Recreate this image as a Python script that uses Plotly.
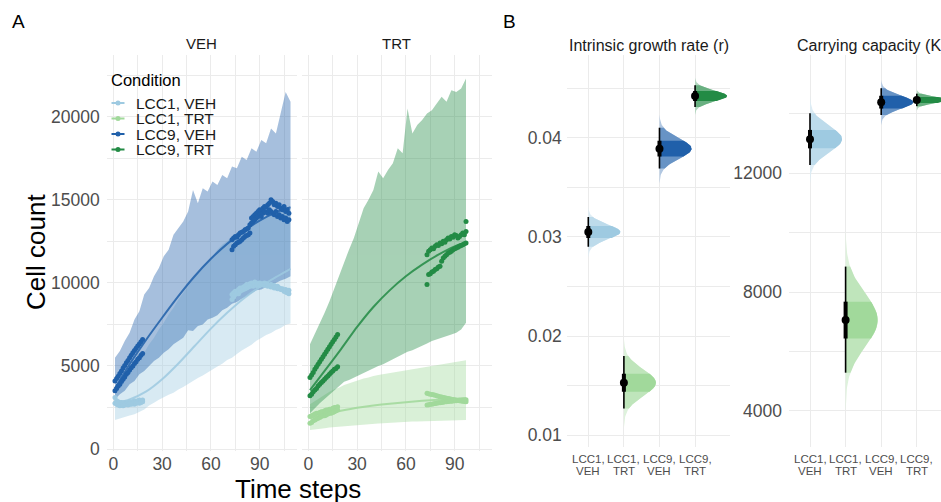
import plotly.graph_objects as go

W, H = 941, 502
HV = 494  # effective vertical scale of the rendered page
F = "Liberation Sans"


def PX(p):
    return p / W


def PY(p):
    return 1 - p / HV


# ---------------- data ----------------
conditions = ["LCC1, VEH", "LCC1, TRT", "LCC9, VEH", "LCC9, TRT"]
colors = ["#9ecae1", "#a1d99b", "#2060aa", "#238b45"]
cat_line1 = ["LCC1,", "LCC1,", "LCC9,", "LCC9,"]
cat_line2 = ["VEH", "TRT", "VEH", "TRT"]

# prediction ribbons (time steps)
veh_rib_t = [1, 4, 7, 10, 13, 16, 19, 22, 25, 28, 31, 34, 37, 40, 43, 46, 49, 52, 55, 58, 61,
             64, 67, 70, 73, 76, 79, 82, 85, 88, 91, 94, 97, 100, 103, 106, 109]
l1v_lo = [1750, 1870, 1930, 2010, 2090, 2230, 2380, 2620, 2780, 2970, 3130, 3270, 3390, 3580, 3730,
          3920, 4080, 4270, 4430, 4620, 4780, 4970, 5130, 5360, 5490, 5720, 5930, 6120, 6280, 6520,
          6680, 6870, 6990, 7170, 7290, 7480, 7550]
l1v_hi = [3700, 4000, 4300, 4700, 5000, 5400, 5800, 6300, 6700, 7200, 7600, 8100, 8500, 9000, 9400,
          9800, 10200, 10600, 11000, 11300, 11600, 12000, 12300, 12500, 12800, 13000, 13200, 13400,
          13600, 13800, 13900, 14000, 14100, 14200, 14300, 14400, 14500]
l9v_lo = [3000, 3300, 3500, 3900, 4100, 4500, 4700, 5000, 5300, 5500, 5800, 6000, 6300, 6500, 6700,
          7150, 7100, 7400, 7500, 7800, 7900, 8050, 8350, 8500, 8750, 8850, 9050, 9200, 9350, 9550,
          9600, 9750, 9900, 10000, 10150, 10250, 10400]
l9v_hi = [5500, 5900, 6500, 7000, 7800, 8300, 9300, 9700, 10400, 10900, 11600, 12000, 12900, 13300,
          13700, 14300, 15600, 14800, 15700, 15500, 16100, 15900, 16500, 16300, 17000, 16900, 17600,
          17400, 18100, 17900, 18600, 18400, 19300, 19000, 20300, 21500, 20900]

trt_rib_t = [1, 4, 7, 10, 13, 16, 19, 22, 25, 28, 31, 34, 37, 40, 43, 46, 49, 52, 55, 58, 61,
             64, 67, 70, 73, 76, 79, 82, 85, 88, 91, 94, 97]
l1t_lo = [1150, 1180, 1220, 1250, 1290, 1320, 1350, 1380, 1400, 1430, 1450, 1470, 1490, 1510, 1530,
          1550, 1570, 1590, 1600, 1620, 1640, 1650, 1660, 1670, 1680, 1690, 1700, 1710, 1720, 1730,
          1740, 1745, 1750]
l1t_hi = [2700, 2900, 3100, 3300, 3450, 3600, 3700, 3850, 3950, 4050, 4150, 4250, 4300, 4400, 4450,
          4500, 4550, 4600, 4650, 4700, 4750, 4800, 4850, 4900, 4950, 5000, 5050, 5100, 5150, 5200,
          5250, 5300, 5350]
l9t_lo = [2150, 2450, 2750, 3000, 3300, 3550, 3800, 4050, 4150, 4300, 4400, 4550, 4700, 4850, 5000,
          5100, 5250, 5400, 5550, 5700, 5850, 5950, 6100, 6200, 6350, 6500, 6600, 6700, 6800, 6900,
          7000, 7200, 7600]
l9t_hi = [6300, 6900, 7500, 8200, 8900, 9700, 10500, 11200, 12000, 12700, 13600, 14500, 15000, 15600,
          16700, 16300, 16800, 17200, 18100, 17800, 20500, 19000, 19500, 19800, 20200, 20400, 20800,
          21200, 20900, 21600, 21500, 21700, 22300]

# fitted curves
veh_line_t = [1, 10, 20, 30, 40, 50, 60, 70, 80, 90, 100, 109]
l1v_line = [2750, 2980, 3450, 4200, 5150, 6200, 7250, 8200, 9050, 9750, 10350, 10850]
l9v_line = [3650, 5100, 6550, 7900, 9200, 10400, 11450, 12350, 13100, 13750, 14250, 14550]
trt_line_t = [1, 10, 20, 30, 40, 50, 60, 70, 80, 90, 97]
l1t_line = [1850, 2100, 2300, 2480, 2620, 2730, 2820, 2900, 2970, 3030, 3060]
l9t_line = [3550, 4700, 6000, 7350, 8550, 9550, 10400, 11100, 11700, 12200, 12450]

# observed cell counts
early_t = [1, 2, 3, 4, 5, 6, 7, 8, 9, 10, 11, 12, 13, 14, 15, 16, 17, 18]
veh_late_t = [73, 74, 75, 76, 77, 78, 79, 80, 81, 82, 83, 84, 85, 86, 87, 88, 89, 90, 91, 92, 93,
              94, 95, 96, 97, 98, 99, 100, 101, 102, 103, 104, 105, 106, 107, 108]
trt_late_t = [73, 74, 75, 76, 77, 78, 79, 80, 81, 82, 83, 84, 85, 86, 87, 88, 89, 90, 91, 92, 93,
              94, 95, 96, 97]

l1v_e1 = [3100, 2900, 2850, 2800, 2800, 2750, 2800, 2750, 2800, 2850, 2800, 2850, 2900, 2850, 2900,
          2950, 2900, 2950]
l1v_e2 = [2750, 2700, 2650, 2600, 2650, 2600, 2650, 2700, 2650, 2700, 2700, 2750, 2700, 2750, 2800,
          2750, 2800, 2850]
l1v_l1 = [9300, 9400, 9500, 9450, 9600, 9700, 9650, 9750, 9800, 9900, 9850, 9950, 10000, 9950, 10050,
          10000, 9950, 10000, 9900, 9950, 9850, 9900, 9800, 9850, 9750, 9800, 9700, 9750, 9650, 9700,
          9600, 9650, 9550, 9600, 9500, 9550]
l1v_l2 = [9000, 9150, 9300, 9400, 9350, 9500, 9550, 9600, 9650, 9700, 9750, 9800, 9850, 9800, 9900,
          9850, 9900, 9850, 9950, 9900, 10000, 9950, 9900, 9850, 9900, 9800, 9850, 9750, 9800, 9700,
          9650, 9600, 9500, 9450, 9400, 9350]
l9v_e1 = [4100, 4250, 4380, 4550, 4700, 4880, 5020, 5200, 5330, 5500, 5640, 5800, 5930, 6060, 6200,
          6320, 6450, 6600]
l9v_e2 = [3500, 3640, 3800, 3900, 4060, 4200, 4340, 4500, 4600, 4760, 4890, 5000, 5150, 5260, 5400,
          5500, 5640, 5750]
l9v_l1 = [12600, 12700, 12800, 12750, 12900, 13000, 13050, 13100, 13200, 13250, 13300, 13500, 13900,
          14000, 14100, 14200, 14300, 14400, 14350, 14500, 14600, 14550, 14700, 14800, 15000, 14900,
          14700, 14800, 14600, 14700, 14500, 14400, 14600, 14300, 14400, 14200]
l9v_l2 = [12000, 12200, 12300, 12400, 12450, 12500, 12600, 12700, 12800, 12850, 12900, 13000, 13600,
          13700, 13800, 13900, 14000, 14100, 14000, 14200, 14300, 14250, 14200, 14400, 14300, 14200,
          14100, 14300, 14000, 14100, 13900, 14000, 13800, 13900, 13700, 13800]

l1t_e1 = [1950, 2000, 2050, 2100, 2150, 2150, 2200, 2250, 2250, 2300, 2350, 2350, 2400, 2400, 2450,
          2500, 2500, 2550]
l1t_e2 = [1550, 1600, 1700, 1750, 1800, 1850, 1900, 1950, 2000, 2000, 2050, 2100, 2150, 2150, 2200,
          2250, 2300, 2350]
l1t_l1 = [3350, 3330, 3300, 3280, 3260, 3230, 3200, 3180, 3150, 3130, 3100, 3080, 3060, 3040, 3020,
          3000, 2980, 2960, 2940, 2920, 2900, 2890, 2880, 2860, 2850]
l1t_l2 = [2650, 2670, 2690, 2700, 2720, 2740, 2760, 2780, 2790, 2800, 2820, 2840, 2850, 2860, 2870,
          2880, 2890, 2900, 2910, 2920, 2930, 2940, 2950, 2950, 2960]
l9t_e1 = [4300, 4450, 4600, 4800, 4950, 5100, 5250, 5400, 5550, 5700, 5850, 6000, 6150, 6300, 6450,
          6600, 6750, 6900]
l9t_e2 = [3200, 3300, 3450, 3550, 3650, 3800, 3900, 4000, 4100, 4200, 4300, 4400, 4500, 4600, 4700,
          4800, 4850, 4950]
l9t_l1 = [11700, 11900, 12000, 12100, 12050, 12200, 12300, 12250, 12400, 12350, 12500, 12450, 12600,
          12700, 12650, 12800, 12750, 12900, 12850, 12700, 12800, 12900, 13000, 12900, 13100]
l9t_l2 = [9900, 10500, 10550, 10650, 10700, 10800, 10850, 10950, 11000, 11300, 11500, 11600, 11700,
          11800, 11850, 11900, 12000, 12050, 12100, 12150, 12200, 12250, 12300, 12350, 12400]
l9t_extra_t = [97]
l9t_extra = [13700]

# posterior summaries: growth rate r
r_median = [0.0305, 0.0153, 0.0389, 0.0442]
r_lo95 = [0.0290, 0.0127, 0.0369, 0.0431]
r_hi95 = [0.0320, 0.0180, 0.0410, 0.0453]
r_lo66 = [0.0299, 0.0144, 0.0381, 0.0437]
r_hi66 = [0.0311, 0.0162, 0.0397, 0.0447]
# posterior summaries: carrying capacity K
k_median = [13150, 7060, 14390, 14470]
k_lo95 = [12280, 5290, 13960, 14260]
k_hi95 = [14020, 8860, 14860, 14680]
k_lo66 = [12840, 6440, 14180, 14370]
k_hi66 = [13460, 7680, 14610, 14570]

# axis ticks
cnt_ticks = [0, 5000, 10000, 15000, 20000]
time_ticks = [0, 30, 60, 90]
r_ticks = [0.01, 0.02, 0.03, 0.04]
k_ticks = [4000, 8000, 12000]

# ---------------- helpers ----------------

def rgb(h):
    h = h.lstrip('#')
    return int(h[0:2], 16), int(h[2:4], 16), int(h[4:6], 16)


def rgba(h, a):
    r, g, b = rgb(h)
    return f"rgba({r},{g},{b},{a})"


def blend(h, a):
    r, g, b = rgb(h)
    f = lambda c: round(255 - (255 - c) * a)
    return f"rgb({f(r)},{f(g)},{f(b)})"


fig = go.Figure()

# ---------------- panel A ----------------
ribbons = [
    (veh_rib_t, l1v_lo, l1v_hi, colors[0], "x", "y"),
    (veh_rib_t, l9v_lo, l9v_hi, colors[2], "x", "y"),
    (trt_rib_t, l1t_lo, l1t_hi, colors[1], "x2", "y2"),
    (trt_rib_t, l9t_lo, l9t_hi, colors[3], "x2", "y2"),
]
for t, lo, hi, c, xa, ya in ribbons:
    fig.add_trace(go.Scatter(x=t + t[::-1], y=hi + lo[::-1], fill="toself",
                             fillcolor=rgba(c, 0.4), line=dict(width=0), mode="lines",
                             hoverinfo="skip", showlegend=False, xaxis=xa, yaxis=ya))

curves = [
    (veh_line_t, l1v_line, colors[0], "x", "y"),
    (veh_line_t, l9v_line, colors[2], "x", "y"),
    (trt_line_t, l1t_line, colors[1], "x2", "y2"),
    (trt_line_t, l9t_line, colors[3], "x2", "y2"),
]
for t, v, c, xa, ya in curves:
    fig.add_trace(go.Scatter(x=t, y=v, mode="lines",
                             line=dict(color=c, width=2, shape="spline", smoothing=0.6),
                             opacity=0.85, showlegend=False, hoverinfo="skip", xaxis=xa, yaxis=ya))

obs = [
    (early_t, l1v_e1, colors[0], "x", "y"), (early_t, l1v_e2, colors[0], "x", "y"),
    (veh_late_t, l1v_l1, colors[0], "x", "y"), (veh_late_t, l1v_l2, colors[0], "x", "y"),
    (early_t, l9v_e1, colors[2], "x", "y"), (early_t, l9v_e2, colors[2], "x", "y"),
    (veh_late_t, l9v_l1, colors[2], "x", "y"), (veh_late_t, l9v_l2, colors[2], "x", "y"),
    (early_t, l1t_e1, colors[1], "x2", "y2"), (early_t, l1t_e2, colors[1], "x2", "y2"),
    (trt_late_t, l1t_l1, colors[1], "x2", "y2"), (trt_late_t, l1t_l2, colors[1], "x2", "y2"),
    (early_t, l9t_e1, colors[3], "x2", "y2"), (early_t, l9t_e2, colors[3], "x2", "y2"),
    (trt_late_t, l9t_l1, colors[3], "x2", "y2"), (trt_late_t, l9t_l2, colors[3], "x2", "y2"),
    (l9t_extra_t, l9t_extra, colors[3], "x2", "y2"),
]
for t, v, c, xa, ya in obs:
    fig.add_trace(go.Scatter(x=t, y=v, mode="markers", marker=dict(color=c, size=5),
                             showlegend=False, hoverinfo="skip", xaxis=xa, yaxis=ya))

# ---------------- panel B: half-eye plots ----------------

def half_eye(med, lo95, hi95, lo66, hi66, xa, ya):
    import math
    for j in range(4):
        m = med[j]
        s = (hi95[j] - lo95[j]) / 3.92
        n = 90
        ys = [m - 3.3 * s + 6.6 * s * i / n for i in range(n + 1)]
        c = colors[j]
        for (a, b, col) in [(ys[0], ys[-1], blend(c, 0.35)),
                            (lo95[j], hi95[j], blend(c, 0.68)),
                            (lo66[j], hi66[j], blend(c, 1.0))]:
            seg = [a] + [y for y in ys if a < y < b] + [b]
            xs = [j + 1 + 0.9 * math.exp(-0.5 * ((y - m) / s) ** 2) for y in seg]
            fig.add_trace(go.Scatter(x=xs + [j + 1, j + 1], y=seg + [b, a], fill="toself",
                                     fillcolor=col, line=dict(width=0), mode="lines",
                                     hoverinfo="skip", showlegend=False, xaxis=xa, yaxis=ya))
        fig.add_trace(go.Scatter(x=[j + 1, j + 1], y=[lo95[j], hi95[j]], mode="lines",
                                 line=dict(color="black", width=1.6), showlegend=False,
                                 hoverinfo="skip", xaxis=xa, yaxis=ya))
        fig.add_trace(go.Scatter(x=[j + 1, j + 1], y=[lo66[j], hi66[j]], mode="lines",
                                 line=dict(color="black", width=4), showlegend=False,
                                 hoverinfo="skip", xaxis=xa, yaxis=ya))
        fig.add_trace(go.Scatter(x=[j + 1], y=[m], mode="markers",
                                 marker=dict(color="black", size=8), showlegend=False,
                                 hoverinfo="skip", xaxis=xa, yaxis=ya))


half_eye(r_median, r_lo95, r_hi95, r_lo66, r_hi66, "x3", "y3")
half_eye(k_median, k_lo95, k_hi95, k_lo66, k_hi66, "x4", "y4")

# ---------------- axes ----------------
GRID = "#ebebeb"
tickfont = dict(family=F, size=17.5, color="#4d4d4d")
common = dict(showline=False, zeroline=False, ticks="", gridcolor=GRID, gridwidth=1.1,
              tickfont=tickfont, fixedrange=True)

yA = [PY(451), PY(55)]
yB = [PY(447), PY(55)]
xr = [-4.1, 112.8]
minor_t = dict(tickvals=[15, 45, 75, 105], showgrid=True, gridcolor=GRID, gridwidth=0.55)
minor_cnt = dict(tickvals=[2500, 7500, 12500, 17500, 22500], showgrid=True, gridcolor=GRID,
                 gridwidth=0.55)

layout = dict(
    width=W, height=H, margin=dict(l=0, r=0, t=0, b=0), paper_bgcolor="white",
    plot_bgcolor="white", font=dict(family=F, color="#1a1a1a"), showlegend=False,
    xaxis=dict(common, domain=[PX(106.7), PX(296.7)], range=xr, tickvals=time_ticks,
               ticktext=[str(v) for v in time_ticks], minor=minor_t, anchor="y",
               ticklabelstandoff=0),
    yaxis=dict(common, domain=yA, range=[-120, 23720], tickvals=cnt_ticks,
               ticktext=[str(v) for v in cnt_ticks], minor=minor_cnt, anchor="x",
               ticklabelstandoff=6),
    xaxis2=dict(common, domain=[PX(301.7), PX(491.7)], range=xr, tickvals=time_ticks,
                ticktext=[str(v) for v in time_ticks], minor=minor_t, anchor="y2",
                ticklabelstandoff=0),
    yaxis2=dict(common, domain=yA, range=[-120, 23720], tickvals=cnt_ticks,
                minor=minor_cnt, anchor="x2", showticklabels=False),
    xaxis3=dict(common, domain=[PX(566.7), PX(730.3)], range=[0.393, 4.99],
                tickvals=[1, 2, 3, 4], showticklabels=False, anchor="y3"),
    yaxis3=dict(common, domain=yB, range=[0.00882, 0.04834],
                tickvals=r_ticks, ticktext=[f"{v:.2f}" for v in r_ticks],
                minor=dict(tickvals=[0.015, 0.025, 0.035, 0.045], showgrid=True, gridcolor=GRID,
                           gridwidth=0.55), anchor="x3", ticklabelstandoff=4),
    xaxis4=dict(common, domain=[PX(789), 1.0], range=[0.41, 4.68],
                tickvals=[1, 2, 3, 4], showticklabels=False, anchor="y4"),
    yaxis4=dict(common, domain=yB, range=[2788, 15982],
                tickvals=k_ticks, ticktext=[str(v) for v in k_ticks],
                minor=dict(tickvals=[6000, 10000, 14000], showgrid=True, gridcolor=GRID,
                           gridwidth=0.55), anchor="x4", ticklabelstandoff=6),
)
fig.update_layout(**layout)

# ---------------- text ----------------

def note(text, x, y, size, color="#000000", xanchor="center", yanchor="middle", angle=0):
    fig.add_annotation(text=text, x=PX(x), y=PY(y), xref="paper", yref="paper",
                       showarrow=False, xanchor=xanchor, yanchor=yanchor, textangle=angle,
                       borderpad=0, font=dict(family=F, size=size, color=color))


note("A", 18, 22, 19)
note("B", 509, 22, 19)
note("VEH", 201.7, 44, 15, "#1a1a1a")
note("TRT", 396.7, 44, 15, "#1a1a1a")
note("Intrinsic growth rate (r)", 648.5, 45, 16, "#1a1a1a")
note("Carrying capacity (K)", 871, 45, 16, "#1a1a1a")
note("Cell count", 36, 252, 26, angle=-90)
note("Time steps", 298, 488.5, 26)

# category labels under the half-eye panels (placed on the category axes)
for xref in ["x3", "x4"]:
    for j in range(4):
        for txt, yy in [(cat_line1[j], 459), (cat_line2[j], 470.5)]:
            fig.add_annotation(text=txt, x=j + 1, y=PY(yy), xref=xref, yref="paper",
                               showarrow=False, xanchor="center", yanchor="middle",
                               borderpad=0, font=dict(family=F, size=11.5, color="#4d4d4d"))

# manual legend
note("Condition", 110, 80, 16.5, xanchor="left")
leg_y = [103, 118.5, 134, 149.5]
for name, c, yy in zip(conditions, colors, leg_y):
    fig.add_shape(type="line", xref="paper", yref="paper", x0=PX(111.5), x1=PX(124.5),
                  y0=PY(yy), y1=PY(yy), line=dict(color=c, width=2))
    fig.add_shape(type="circle", xref="paper", yref="paper", x0=PX(115.5), x1=PX(120.5),
                  y0=PY(yy + 2.5), y1=PY(yy - 2.5), fillcolor=c, line=dict(width=0))
    note(name, 134.5, yy, 15.5, "#1a1a1a", xanchor="left")

fig.write_html("out.html", config={"displayModeBar": False},
               post_script="document.body.style.margin='0px';"
                           "document.documentElement.style.overflow='hidden';")
